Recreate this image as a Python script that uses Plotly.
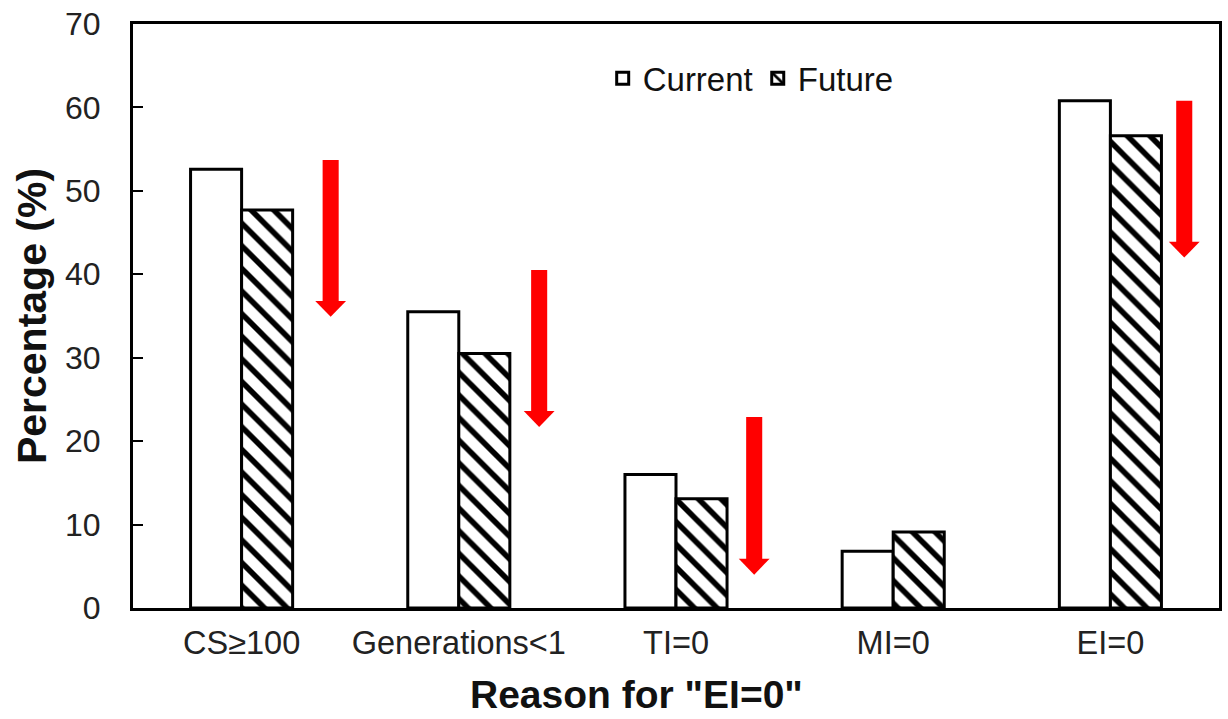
import plotly.graph_objects as go

categories = ["CS≥100", "Generations<1", "TI=0", "MI=0", "EI=0"]
current = [52.6, 35.5, 16.0, 6.8, 60.8]
future = [47.7, 30.5, 13.1, 9.1, 56.6]

# red arrows: category position, top value, tip value
arrow_pos = [0.41, 1.37, 2.36, 4.34]
arrow_top = [53.7, 40.5, 22.9, 60.8]
arrow_tip = [34.9, 21.7, 4.0, 42.0]

FONT = "Liberation Sans, Arial, sans-serif"
xs = list(range(len(categories)))

fig = go.Figure()
fig.add_trace(go.Bar(
    x=xs, y=current, name="Current",
    marker=dict(color="white", line=dict(color="black", width=3)),
))
fig.add_trace(go.Bar(
    x=xs, y=future, name="Future",
    marker=dict(color="white", line=dict(color="black", width=3),
                pattern=dict(shape="\\", fgcolor="black", bgcolor="white",
                             size=16, solidity=0.35, fillmode="replace")),
))

shaft_half = 0.037
head_half = 0.071
head_len = 1.9
for xp, yt, yb in zip(arrow_pos, arrow_top, arrow_tip):
    fig.add_shape(type="rect", xref="x", yref="y",
                  x0=xp - shaft_half, x1=xp + shaft_half, y0=yb + head_len - 0.1, y1=yt,
                  fillcolor="#ff0000", line=dict(width=0))
    fig.add_shape(type="path", xref="x", yref="y",
                  path=f"M {xp - head_half} {yb + head_len} L {xp + head_half} {yb + head_len} L {xp} {yb} Z",
                  fillcolor="#ff0000", line=dict(width=0))

fig.add_annotation(text='<b>Reason for "EI=0"</b>', xref="paper", yref="paper",
                   x=(638 - 133) / 1089, y=-0.148, xanchor="center", yanchor="middle",
                   showarrow=False, font=dict(size=39, family=FONT, color="#111111"))

fig.update_layout(
    width=1228, height=719,
    margin=dict(l=133, r=6, t=24, b=111),
    paper_bgcolor="white", plot_bgcolor="white",
    barmode="group", bargap=0.53, bargroupgap=0,
    font=dict(family=FONT, color="#222222", size=30),
    showlegend=True,
    legend=dict(orientation="h", x=0.4325, y=0.907, xanchor="left", yanchor="middle",
                font=dict(size=33, family=FONT, color="#111111"),
                bgcolor="rgba(0,0,0,0)", itemwidth=30, traceorder="normal"),
    xaxis=dict(
        range=[-0.5, 4.5], tickmode="array", tickvals=xs, ticktext=categories,
        showline=True, linecolor="black", linewidth=3, mirror=True,
        ticks="", showgrid=False, zeroline=False,
        tickfont=dict(size=32.5, family=FONT, color="#222222"),
        ticklabelstandoff=4,
    ),
    yaxis=dict(
        range=[0, 70], dtick=10, showline=True, linecolor="black", linewidth=3, mirror=True,
        ticks="inside", ticklen=10, tickwidth=2, tickcolor="black",
        showgrid=False, zeroline=False,
        tickfont=dict(size=32, family=FONT, color="#222222"),
        ticklabelstandoff=23,
        title=dict(text="<b>Percentage (%)</b>", font=dict(size=41, family=FONT, color="#111111"),
                   standoff=6),
    ),
)

fig.write_html("out.html")
